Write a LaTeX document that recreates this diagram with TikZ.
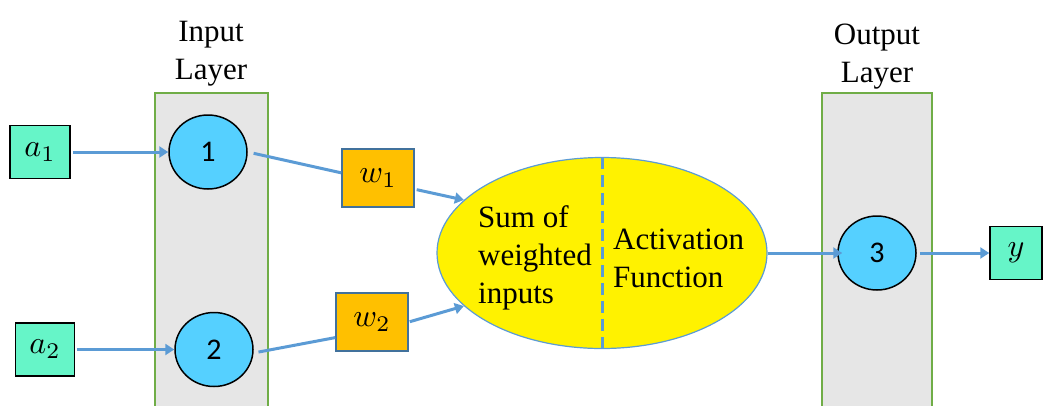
\documentclass[tikz,border=0pt]{standalone}
\usepackage{fontspec}
\setmainfont{Liberation Serif}
\newfontfamily\digitfont{Carlito}
\definecolor{layerBody}{RGB}{230,230,230}
\definecolor{layerBorder}{RGB}{112,173,71}
\definecolor{neuronBody}{RGB}{85,208,255}
\definecolor{signalBody}{RGB}{102,245,200}
\definecolor{weightBody}{RGB}{255,192,0}
\definecolor{weightBorder}{RGB}{65,113,156}
\definecolor{linkBlue}{RGB}{91,155,213}
\usetikzlibrary{shapes}
\usetikzlibrary{arrows.meta}
\newcommand{\bigsym}[1]{\scalebox{3.2}{$#1$}}
\tikzstyle{layer} = [rectangle, fill=layerBody, draw=layerBorder, line width=1.5pt,
        minimum height=330pt, inner sep=0pt]
\tikzstyle{layertitle} = [align=center, font={\fontsize{31}{38}\selectfont}]
\tikzstyle{neuron} = [ellipse, fill=neuronBody, draw=black, line width=1.5pt,
        minimum width=78pt, minimum height=74pt, inner sep=0pt,
        font={\digitfont\fontsize{30}{34}\selectfont}]
\tikzstyle{signal} = [rectangle, fill=signalBody, draw=black, line width=1.5pt,
        minimum height=53pt, inner sep=0pt]
\tikzstyle{weight} = [rectangle, fill=weightBody, draw=weightBorder, line width=1.5pt,
        minimum width=72pt, minimum height=58pt, inner sep=0pt]
\tikzstyle{unit} = [ellipse, fill=yellow, draw=linkBlue, line width=1.2pt,
        minimum width=330pt, minimum height=191pt, inner sep=0pt]
\tikzstyle{unittext} = [align=left, anchor=west, inner sep=0pt,
        font={\fontsize{31}{38}\selectfont}]
\tikzstyle{wire} = [draw=linkBlue, line width=3pt]
\tikzstyle{link} = [wire, -{Triangle[length=9pt,width=11pt]}]

\begin{document}
\begin{tikzpicture}[x=1pt, y=-1pt]
    \clip (0,0) rectangle (1043,405);
    \draw
        node [layer, minimum width=113pt] (inlayer) at (211.5,258) {}
        node [layer, minimum width=110pt] (outlayer) at (877,258) {}
        node [layertitle] (intitle) at (211,54) {Input\\Layer}
        node [layertitle] (outtitle) at (877,57) {Output\\Layer};

    \draw
        node [signal, minimum width=60pt] (a1) at (40,152) {\bigsym{a_1}}
        node [signal, minimum width=59pt] (a2) at (45,349.5) {\bigsym{a_2}}
        node [signal, minimum width=52pt] (y) at (1016,253) {\bigsym{y}}
        node [neuron] (n1) at (208,152) {1}
        node [neuron] (n2) at (214,349.5) {2}
        node [neuron] (n3) at (877,253) {3}
        node [weight] (w1) at (378,178) {\bigsym{w_1}}
        node [weight] (w2) at (372,322) {\bigsym{w_2}}
        node [unit] (sum) at (602,253) {}
        node [unittext] (sumtext) at (478,258) {Sum of\\weighted\\inputs}
        node [unittext] (acttext) at (613,258) {Activation\\Function};
    \draw [draw=linkBlue, line width=3pt, dash pattern=on 12pt off 6pt]
        (sum.north) -- (sum.south);

    \draw [link, shorten <=2pt] (a1) -- (n1);
    \draw [link, shorten <=2pt] (a2) -- (n2);
    \draw [wire, shorten <=6pt] (n1.east) -- (w1.172);
    \draw [wire, shorten <=5pt] (n2.-5) -- (w2.203);
    \draw [link, shorten <=2pt] (w1.-17) -- (sum.159);
    \draw [link, shorten <=1pt] (w2.east) -- (sum.201);
    \draw [link, shorten >=-5pt] (sum.east) -- (n3.west);
    \draw [link, shorten <=3pt] (n3.east) -- (y.west);
\end{tikzpicture}
\end{document}
